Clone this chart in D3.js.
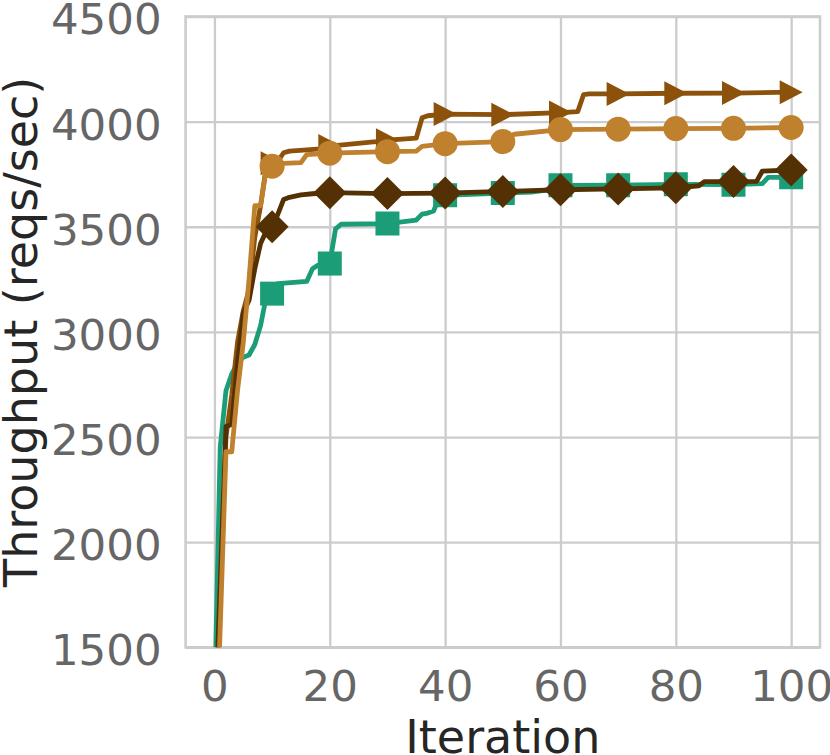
<!DOCTYPE html>
<html>
<head>
<meta charset="utf-8">
<script src="https://cdn.jsdelivr.net/npm/d3@7"></script>
<style>
    html, body { margin: 0; padding: 0; background: #fff; }
    svg { display: block; font-family: "DejaVu Sans", sans-serif; }
</style>
</head>
<body>
<svg id="chart" width="830" height="755"></svg>
<script>
// [iteration, throughput]
const squareSeries = [
    [0, 1200], [1, 2450], [2, 2720], [3, 2800], [4, 2850], [5, 2880], [6, 2890], [7, 2940],
    [8, 3030], [9, 3170], [10, 3182], [11, 3230], [16, 3240], [17, 3300], [18, 3318], [20, 3325],
    [21, 3490], [22, 3512], [30, 3515], [35, 3532], [36, 3560], [37, 3565], [38, 3575], [39, 3640],
    [40, 3650], [50, 3660], [55, 3665], [59, 3680], [60, 3697], [70, 3698], [80, 3702], [90, 3700],
    [95, 3705], [96, 3735], [100, 3735]
];
const triangleSeries = [
    [0, 1000], [2, 2500], [3, 2700], [4, 2950], [5, 3100], [6, 3200], [7, 3450], [8, 3600],
    [9, 3790], [10, 3802], [11, 3812], [12, 3852], [13, 3860], [19, 3872], [20, 3884], [28, 3905],
    [30, 3912], [35, 3922], [36, 4018], [37, 4028], [40, 4036], [50, 4033], [60, 4043], [63, 4048],
    [64, 4128], [65, 4132], [70, 4132], [80, 4135], [90, 4136], [100, 4140]
];
const diamondSeries = [
    [0, 1050], [2, 2550], [3, 2560], [4, 2850], [5, 3090], [6, 3150], [7, 3300], [8, 3420],
    [9, 3480], [10, 3500], [11, 3560], [12, 3630], [13, 3640], [15, 3652], [17, 3657], [20, 3662],
    [30, 3658], [40, 3660], [50, 3668], [60, 3676], [70, 3680], [80, 3685], [84, 3695], [85, 3715],
    [90, 3715], [94, 3716], [95, 3765], [100, 3770]
];
const circleSeries = [
    [0, 750], [2, 2430], [3, 2430], [4, 2720], [5, 2950], [6, 3250], [7, 3600], [8, 3600],
    [9, 3775], [10, 3788], [11, 3800], [15, 3805], [16, 3843], [20, 3850], [30, 3857], [35, 3860],
    [36, 3882], [40, 3895], [50, 3905], [51, 3928], [52, 3940], [60, 3962], [70, 3964], [80, 3967],
    [90, 3968], [100, 3972]
];
const markerIters = [10, 20, 30, 40, 50, 60, 70, 80, 90, 100];
const xTicks = [0, 20, 40, 60, 80, 100];
const yTicks = [1500, 2000, 2500, 3000, 3500, 4000, 4500];

const series = [
    { data: squareSeries, color: "#1b9e77", marker: "square" },
    { data: triangleSeries, color: "#8c510a", marker: "triangle" },
    { data: diamondSeries, color: "#543005", marker: "diamond" },
    { data: circleSeries, color: "#bf812d", marker: "circle" },
];

const margin = { top: 16.5, right: 10, bottom: 107.7, left: 185.6 };
const svg = d3.select("#chart");
const width = +svg.attr("width");
const height = +svg.attr("height");
const plotW = width - margin.left - margin.right;
const plotH = height - margin.top - margin.bottom;

const xScale = d3.scaleLinear().domain([-5, 105]).range([0, plotW]);
const yScale = d3.scaleLinear().domain([1500, 4500]).range([plotH, 0]);

const g = svg.append("g").attr("transform", `translate(${margin.left},${margin.top})`);

// grid
g.append("g")
    .attr("class", "grid")
    .attr("transform", `translate(0,${plotH})`)
    .call(d3.axisBottom(xScale).tickValues(xTicks).tickSize(-plotH).tickFormat(""))
    .call((s) => s.select(".domain").remove())
    .call((s) => s.selectAll("line").attr("stroke", "#cccccc").attr("stroke-width", 2.3));
g.append("g")
    .attr("class", "grid")
    .call(d3.axisLeft(yScale).tickValues(yTicks).tickSize(-plotW).tickFormat(""))
    .call((s) => s.select(".domain").remove())
    .call((s) => s.selectAll("line").attr("stroke", "#cccccc").attr("stroke-width", 2.3));

g.append("rect")
    .attr("width", plotW)
    .attr("height", plotH)
    .attr("fill", "none")
    .attr("stroke", "#cccccc")
    .attr("stroke-width", 2.6);

g.append("clipPath").attr("id", "plot-clip")
    .append("rect").attr("width", plotW).attr("height", plotH);

const line = d3.line()
    .x((d) => xScale(d[0]))
    .y((d) => yScale(d[1]));

const markerPath = {
    square: "M-12,-12H12V12H-12Z",
    diamond: "M0,-16.5L16.5,0L0,16.5L-16.5,0Z",
    triangle: "M11.5,0L-11.5,-12L-11.5,12Z",
    circle: d3.symbol(d3.symbolCircle, Math.PI * 12.5 * 12.5)(),
};

const lines = g.append("g").attr("clip-path", "url(#plot-clip)");
series.forEach((s) => {
    const sg = lines.append("g");
    sg.append("path")
        .datum(s.data)
        .attr("d", line)
        .attr("fill", "none")
        .attr("stroke", s.color)
        .attr("stroke-width", 4.8)
        .attr("stroke-linejoin", "round");

    sg.selectAll(".marker")
        .data(s.data.filter((d) => markerIters.includes(d[0])))
        .join("path")
        .attr("class", "marker")
        .attr("transform", (d) => `translate(${xScale(d[0])},${yScale(d[1])})`)
        .attr("d", markerPath[s.marker])
        .attr("fill", s.color);
});

// axes
const yAxis = g.append("g")
    .call(d3.axisLeft(yScale).tickValues(yTicks).tickSize(0).tickPadding(24).tickFormat(d3.format("d")));
yAxis.select(".domain").remove();
yAxis.selectAll("text")
    .attr("dy", "0.4em")
    .attr("fill", "#666666")
    .style("font-size", "43.5px")
    .style("font-family", "DejaVu Sans");

const xAxis = g.append("g")
    .attr("transform", `translate(0,${plotH})`)
    .call(d3.axisBottom(xScale).tickValues(xTicks).tickSize(0).tickPadding(22.8));
xAxis.select(".domain").remove();
xAxis.selectAll("text")
    .attr("fill", "#666666")
    .style("font-size", "43.5px")
    .style("font-family", "DejaVu Sans");

svg.append("text")
    .attr("x", margin.left + plotW / 2)
    .attr("y", 752.7)
    .attr("text-anchor", "middle")
    .attr("fill", "#262626")
    .style("font-size", "46px")
    .text("Iteration");

svg.append("text")
    .attr("transform", "rotate(-90)")
    .attr("x", -(margin.top + plotH / 2))
    .attr("y", 37)
    .attr("text-anchor", "middle")
    .attr("fill", "#262626")
    .style("font-size", "46px")
    .text("Throughput (reqs/sec)");
</script>
</body>
</html>
